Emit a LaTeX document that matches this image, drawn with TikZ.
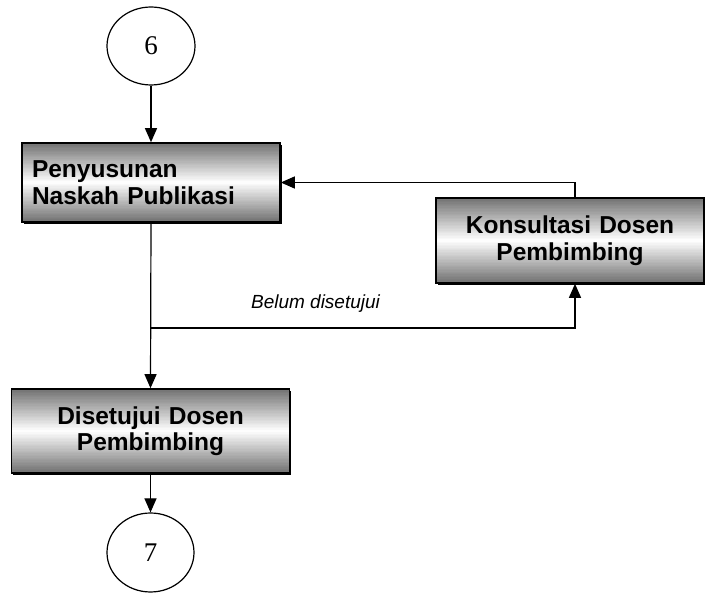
\documentclass[tikz,border=0pt]{standalone}
\usepackage{fontspec}
\setmainfont{Liberation Sans}
\newfontfamily\numfont{Liberation Serif}
\usetikzlibrary{arrows.meta,shadows,shapes.geometric,calc}
\begin{document}
\begin{tikzpicture}[x=1pt,y=-1pt,
  % grey-white-grey band fill, built from thin horizontal strips
  bandfill/.style={path picture={
    \foreach \i in {0,...,59}{
      \pgfmathsetmacro\shade{56*abs(\i+0.5-30)/30}
      \fill[black!\shade!white]
        ($(path picture bounding box.north west)!\i/60!(path picture bounding box.south west)$)
        rectangle
        ($(path picture bounding box.north east)!{(\i+1.1)/60}!(path picture bounding box.south east)$);
    }}},
  procbox/.style={draw=black,line width=1.6pt,fill=white,bandfill,inner sep=0pt,
    drop shadow={shadow xshift=1.6pt,shadow yshift=-1.6pt,opacity=1,fill=black},
    font=\fontsize{24.5}{26.5}\selectfont\bfseries},
  connector/.style={ellipse,draw=black,line width=1.2pt,fill=white,inner sep=0pt,
    font=\numfont\fontsize{27}{29}\selectfont},
  flow/.style={line width=1.2pt,draw=black},
  tip/.style={-{Triangle[length=14pt,width=12pt]}}]
\useasboundingbox (0,0) rectangle (705,593);

% start / end connectors
\node[connector,minimum width=88pt,minimum height=78pt] (c6) at (151,46) {6};
\node[connector,minimum width=87pt,minimum height=79pt] (c7) at (150.5,552.5) {7};

% process boxes
\node[procbox,minimum width=258pt,minimum height=79pt,text width=238pt,align=left] (naskah) at (151,182.5)
  {Penyusunan\\Naskah Publikasi};
\node[procbox,minimum width=268pt,minimum height=85pt,text width=260pt,align=center] (konsul) at (570,240.5)
  {Konsultasi Dosen\\Pembimbing};
\node[procbox,minimum width=278pt,minimum height=84pt,text width=270pt,align=center] (setuju) at (150.5,431)
  {Disetujui Dosen\\Pembimbing};

% branch point for the revision loop
\coordinate (split) at (151,328);
\coordinate (back) at (575,328);

% connectors
\draw[flow,tip] (c6.south) -- (naskah.north);
\draw[flow,tip] (naskah.south) -- (setuju.north);
\draw[flow,tip] (split) -- (back) -- (konsul.south -| back);
\draw[flow,tip] (konsul.north -| back) |- (naskah.east);
\draw[flow,tip] (setuju.south) -- (c7.north);

\node[font=\fontsize{19}{21}\selectfont\itshape,anchor=base] (lbl) at (315.5,309) {Belum disetujui};
\end{tikzpicture}
\end{document}
